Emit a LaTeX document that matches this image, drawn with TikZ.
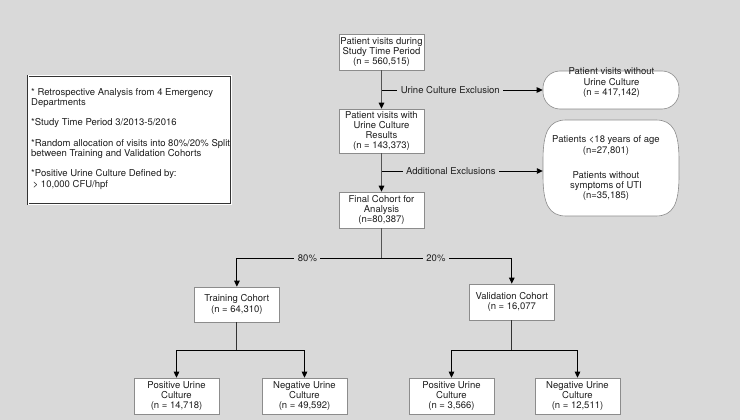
\documentclass[tikz,border=0pt]{standalone}
\usepackage{fontspec}
\setmainfont{TeX Gyre Heros}
\usetikzlibrary{arrows.meta}
\definecolor{bg}{RGB}{217,217,217}
\definecolor{bord}{RGB}{140,140,140}
\definecolor{txt}{RGB}{30,30,30}
\definecolor{vline}{RGB}{85,85,85}
\begin{document}
\begin{tikzpicture}[x=1pt,y=-1pt,
  every node/.style={font=\fontsize{9.5}{10.3}\selectfont, text=txt},
  box/.style={draw=bord, fill=white, line width=0.6pt, minimum width=85pt, align=center, inner sep=1pt},
  lbl/.style={fill=bg, inner sep=3.5pt},
  vconn/.style={draw=vline, line width=1.8pt},
  vconnb/.style={draw=black!80, line width=1.1pt},
  conn/.style={draw=black, line width=0.9pt},
  tip/.style={-{Triangle[length=6pt,width=5.5pt,color=black]}}
]
\fill[bg] (0,0) rectangle (740,420);

% note box
\node[draw=black!80, double=white, double distance=1pt, line width=0.6pt, fill=white,
      minimum width=203pt, minimum height=128pt] (note) at (129.5,140) {};
\node[anchor=north west, align=left, inner sep=0pt] (notet) at (31,88.2)
  {* Retrospective Analysis from 4 Emergency\\Departments\\[10pt]*Study Time Period 3/2013-5/2016\\[10pt]*Random allocation of visits into 80\%/20\% Split\\between Training and Validation Cohorts\\[10pt]*Positive Urine Culture Defined by:\\\,> 10,000 CFU/hpf};

% main boxes
\node[box, minimum height=36pt] (b1) at (381.5,52) {Patient visits during\\Study Time Period\\(n = 560,515)};
\node[box, minimum height=44pt] (b2) at (381.5,131) {Patient visits with\\Urine Culture\\Results\\(n = 143,373)};
\node[box, minimum height=36pt] (b3) at (381.5,210) {Final Cohort for\\Analysis\\(n=80,387)};
\node[box, minimum height=35pt] (tr) at (236.9,304.5) {Training Cohort\\(n = 64,310)};
\node[box, minimum height=36pt] (va) at (511.8,302) {Validation Cohort\\(n = 16,077};
\node[box, minimum height=36pt] (pt) at (176.5,396) {Positive Urine\\Culture\\(n = 14,718)};
\node[box, minimum height=36pt] (nt) at (304.5,396) {Negative Urine\\Culture\\(n = 49,592)};
\node[box, minimum height=36pt] (pv) at (451.5,396) {Positive Urine\\Culture\\(n = 3,566)};
\node[box, minimum height=36pt] (nv) at (577.5,396) {Negative Urine\\Culture\\(n = 12,511)};

% exclusion shapes
\node[draw=bord, fill=white, line width=0.6pt, rounded corners=17pt, minimum width=136pt, minimum height=38pt] (ex1) at (611,90) {};
\node[align=center, inner sep=0pt] (ex1t) at (611.5,82.8) {Patient visits without\\Urine Culture\\(n = 417,142)};

\node[minimum width=136pt, minimum height=96pt, inner sep=0pt] (ex2) at (611,168) {};
\path[draw=bord, fill=white, line width=0.6pt]
  (543,160) .. controls (543,132) and (549,120) .. (566,120) -- (656,120)
  .. controls (673,120) and (679,132) .. (679,160) -- (679,176)
  .. controls (679,204) and (673,216) .. (656,216) -- (566,216)
  .. controls (549,216) and (543,204) .. (543,176) -- cycle;
\node[align=center, inner sep=0pt] (ex2t) at (606,168.4) {Patients <18 years of age\\(n=27,801)\\[15pt]Patients without\\symptoms of UTI\\(n=35,185)};

% connectors
\coordinate (e1) at (381.5,90);
\coordinate (e2) at (381.5,171);
\draw[conn, tip] (e1) -- node[lbl, pos=0.427] {Urine Culture Exclusion} (ex1);
\draw[conn, tip] (e2) -- node[lbl, pos=0.43] {Additional Exclusions} (e2 -| ex2.west);
\draw[vconn, tip] (b1) -- (b2);
\draw[vconn, tip] (b2) -- (b3);

\coordinate (s) at (381.5,258);
\draw[conn, tip] (s) -| node[lbl, pos=0.256] {80\%} (tr);
\draw[conn, tip] (s) -| node[lbl, pos=0.209] {20\%} (va);
\draw[vconn] (b3) -- (s);

\coordinate (ts) at (236.9,350);
\coordinate (vs) at (511.8,350);
\draw[conn, tip] (ts) -| (pt);
\draw[conn, tip] (ts) -| (nt);
\draw[vconnb] (tr) -- (ts);
\draw[conn, tip] (vs) -| (pv);
\draw[conn, tip] (vs) -| (nv);
\draw[vconnb] (va) -- (vs);
\end{tikzpicture}
\end{document}
